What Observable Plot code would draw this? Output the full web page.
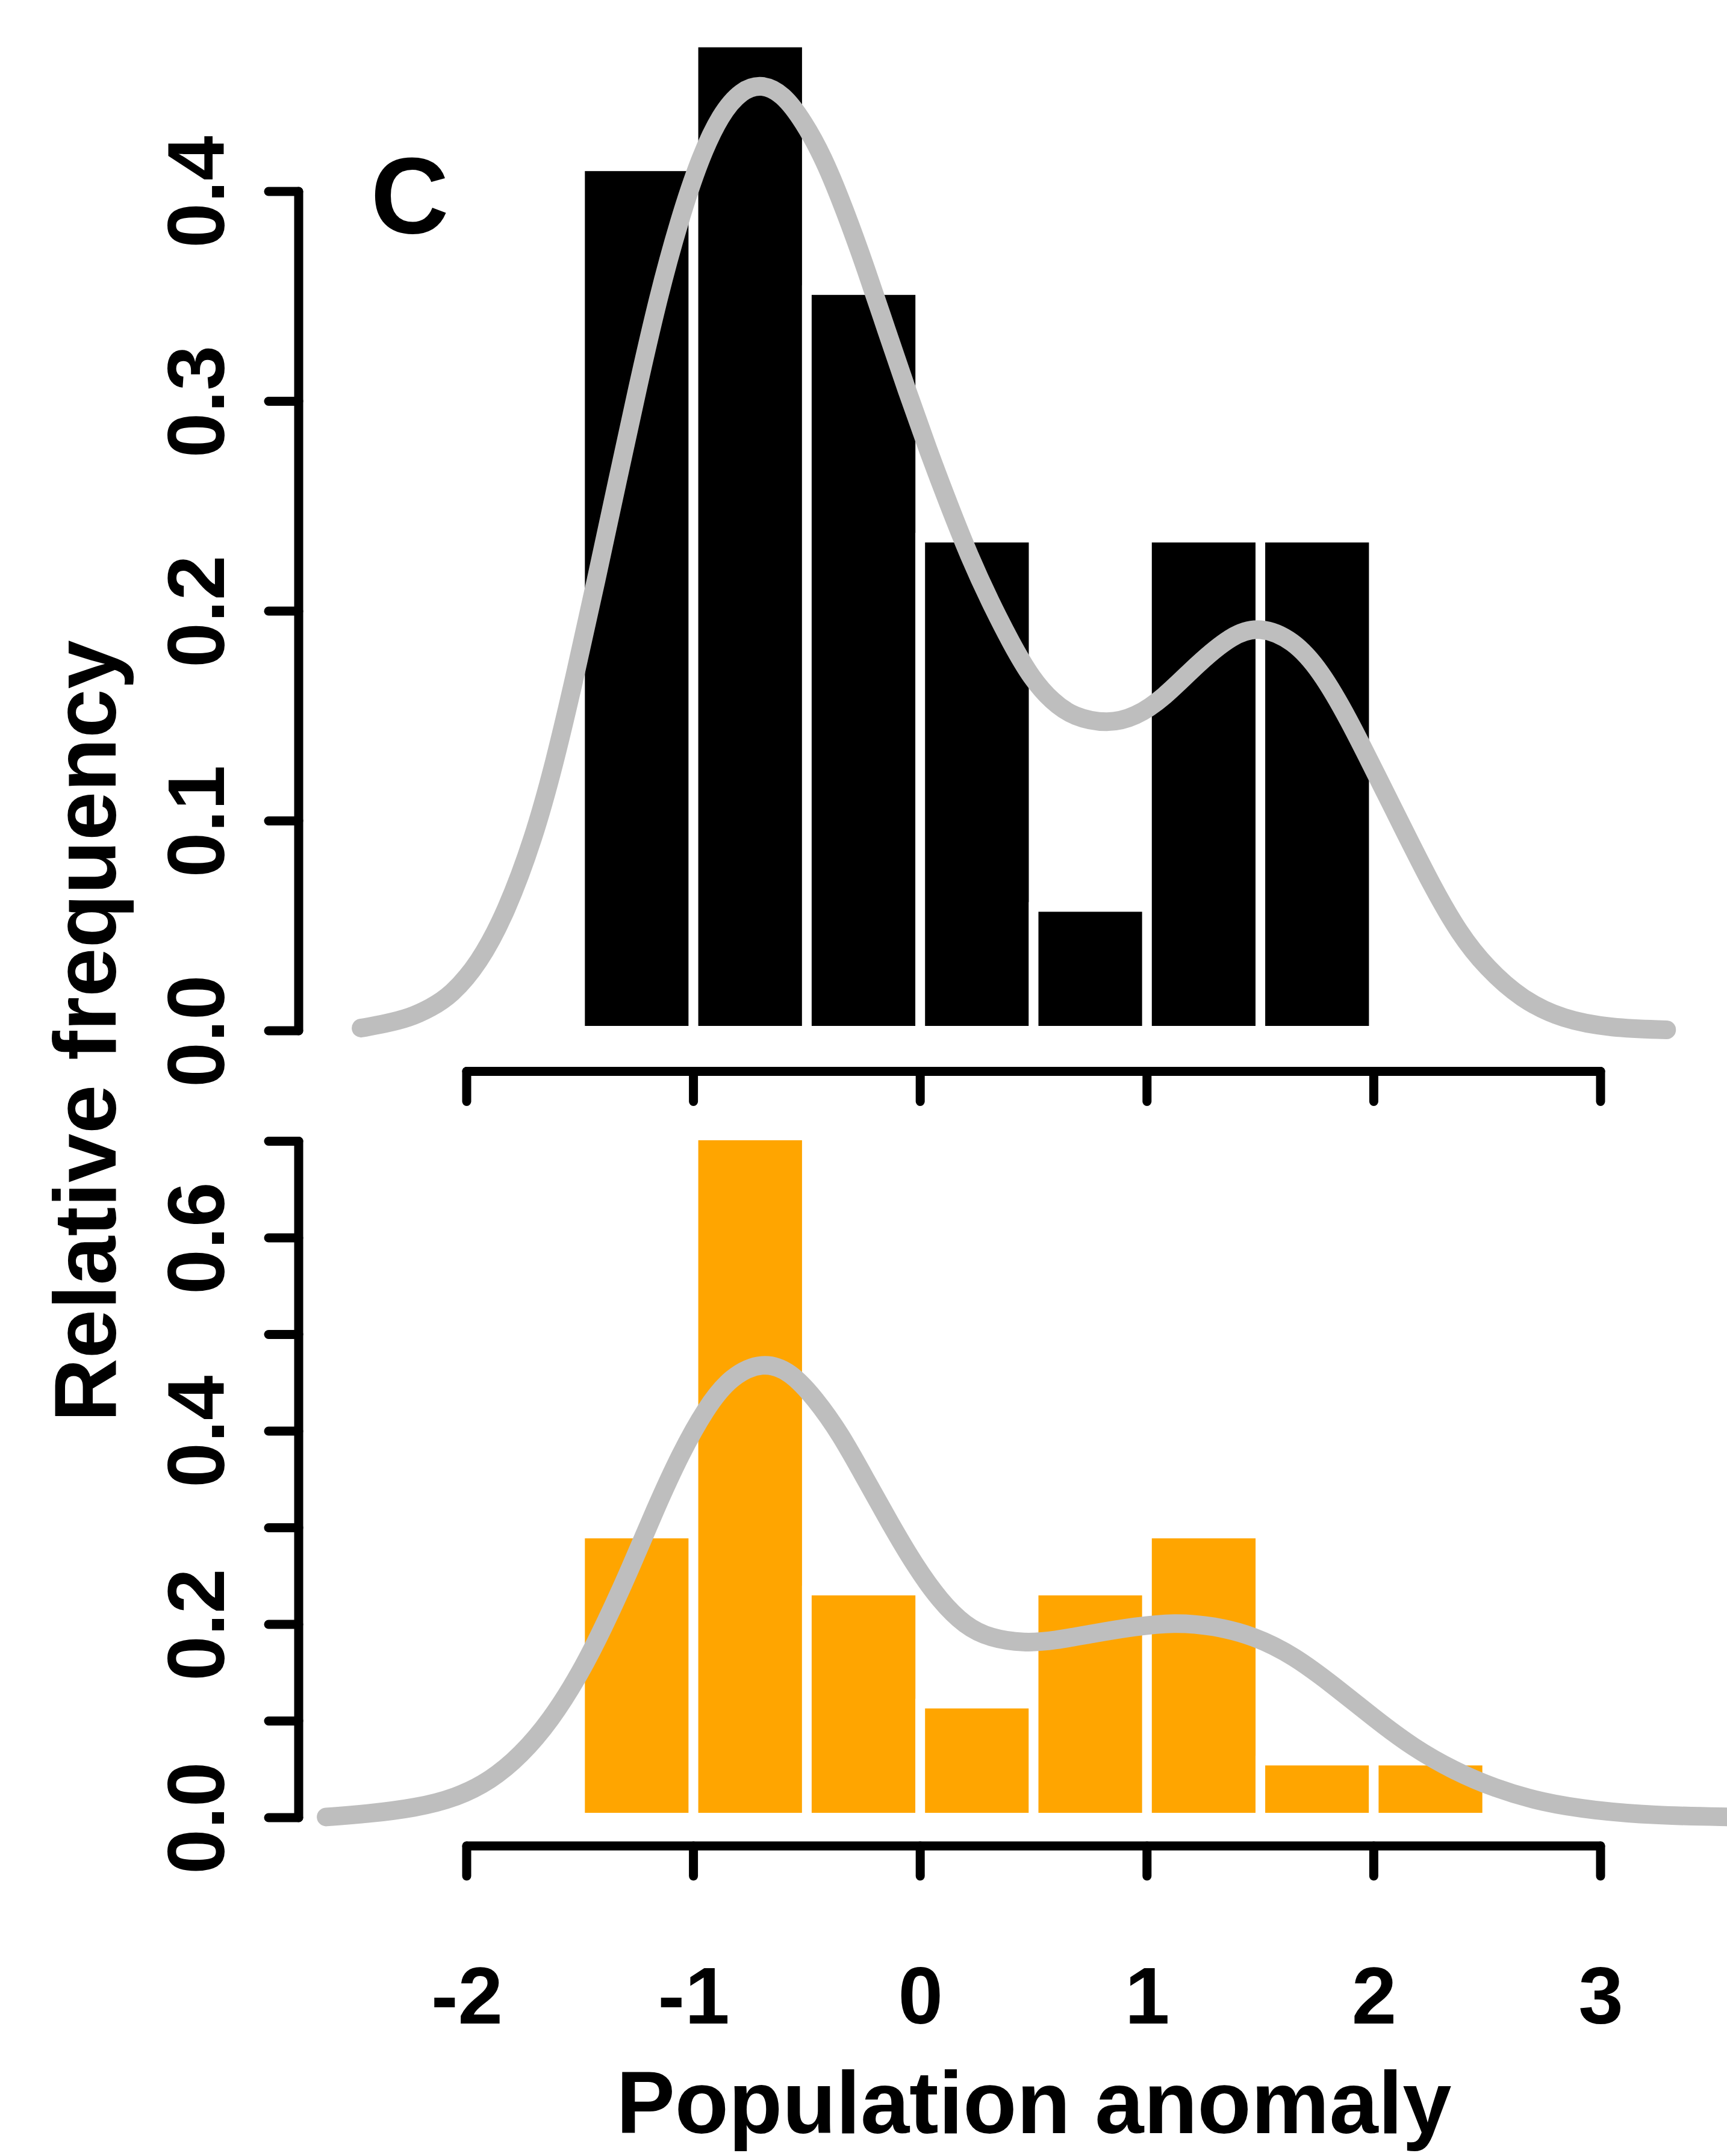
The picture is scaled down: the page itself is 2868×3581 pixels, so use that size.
<!DOCTYPE html>
<html>
<head>
<meta charset="utf-8">
<script src="https://cdn.jsdelivr.net/npm/d3@7"></script>
<script src="https://cdn.jsdelivr.net/npm/@observablehq/plot@0.6"></script>
<style>
  html, body { margin: 0; padding: 0; background: #ffffff; }
  #chart { position: relative; width: 2868px; height: 3581px; background: #ffffff; }
  #chart svg { position: absolute; left: 0; top: 0; }
</style>
</head>
<body>
<div id="chart"></div>
<script>
// ---------------- data ----------------
const xTicks = [-2, -1, 0, 1, 2, 3];
const binWidth = 0.5;

// upper panel (black histogram)
const topBinStarts = [-1.5, -1.0, -0.5, 0.0, 0.5, 1.0, 1.5];
const topFreq = [0.412, 0.471, 0.353, 0.235, 0.059, 0.235, 0.235];
const topYTicks = [0.0, 0.1, 0.2, 0.3, 0.4];
const topYLabels = [0.0, 0.1, 0.2, 0.3, 0.4];
const topCurveX = [-2.467, -2.36, -2.253, -2.16, -2.070, -1.948, -1.827, -1.705, -1.613, -1.522, -1.430, -1.339,
  -1.247, -1.156, -1.065, -0.973, -0.882, -0.790, -0.699, -0.607, -0.516, -0.424,
  -0.333, -0.241, -0.150, -0.059, 0.033, 0.124, 0.216, 0.307, 0.399, 0.490,
  0.581, 0.673, 0.826, 0.948, 1.070, 1.221, 1.375, 1.496, 1.643, 1.765,
  1.888, 2.010, 2.131, 2.253, 2.375, 2.497, 2.649, 2.832, 3.045, 3.29];
const topCurveY = [0.0014, 0.0035, 0.0063, 0.011, 0.017, 0.032, 0.0565, 0.092, 0.128, 0.170, 0.215, 0.261,
  0.307, 0.350, 0.386, 0.416, 0.437, 0.4485, 0.4515, 0.4467, 0.4336, 0.4155,
  0.391, 0.3635, 0.334, 0.305, 0.277, 0.251, 0.226, 0.2046, 0.185, 0.168,
  0.157, 0.1497, 0.1463, 0.1497, 0.1585, 0.175, 0.189, 0.193, 0.1865, 0.1717,
  0.1486, 0.1222, 0.096, 0.0697, 0.0465, 0.030, 0.0152, 0.0055, 0.0014, 0.0006];

// lower panel (orange histogram)
const bottomBinStarts = [-1.5, -1.0, -0.5, 0.0, 0.5, 1.0, 1.5, 2.0];
const bottomFreq = [0.294, 0.706, 0.235, 0.118, 0.235, 0.294, 0.059, 0.059];
const bottomYTicks = [0.0, 0.1, 0.2, 0.3, 0.4, 0.5, 0.6, 0.7];
const bottomYLabels = [0.0, 0.2, 0.4, 0.6];
const bottomCurveX = [-2.621, -2.446, -2.226, -2.049, -1.895, -1.763, -1.631, -1.499, -1.389, -1.279,
  -1.169, -1.058, -0.948, -0.838, -0.695, -0.574, -0.464, -0.354, -0.244, -0.134,
  -0.024, 0.086, 0.196, 0.306, 0.458, 0.590, 0.766, 0.942, 1.118, 1.294,
  1.471, 1.647, 1.823, 1.999, 2.175, 2.351, 2.527, 2.747, 2.968, 3.232, 3.558, 3.70];
const bottomCurveY = [0.001, 0.004, 0.0103, 0.0207, 0.0388, 0.0646, 0.1007, 0.150, 0.2015, 0.2583,
  0.320, 0.377, 0.4237, 0.457, 0.4726, 0.4623, 0.4339, 0.3978, 0.3513, 0.3048,
  0.2609, 0.2247, 0.1989, 0.186, 0.1808, 0.1834, 0.1911, 0.1979, 0.2025, 0.1989,
  0.1885, 0.1679, 0.1369, 0.1034, 0.0723, 0.0491, 0.031, 0.0156, 0.0078, 0.0026, 0.001, 0.0008];

const yTitle = "Relative frequency";
const xTitle = "Population anomaly";
const panelLabel = "C";

// ---------------- tables built from the arrays ----------------
const topBins = topBinStarts.map((s, i) => ({x1: s, x2: s + binWidth, freq: topFreq[i]}));
const bottomBins = bottomBinStarts.map((s, i) => ({x1: s, x2: s + binWidth, freq: bottomFreq[i]}));
const topCurve = topCurveX.map((x, i) => ({x, y: topCurveY[i]}));
const bottomCurve = bottomCurveX.map((x, i) => ({x, y: bottomCurveY[i]}));

// ---------------- styling ----------------
const W = 2868, H = 3581;
const FONT = "'Liberation Sans', Arial, Helvetica, sans-serif";
const AXIS_W = 15, TICK_LEN = 50;
const TICK_FS = 134, TITLE_FS = 146;
const CURVE_COLOR = "#bebebe";
const CURVE_W = 31;
const xScale = {domain: [xTicks[0], xTicks[xTicks.length - 1]], range: [775, 2658], axis: null};

// R-style axes (line from first to last tick), drawn from the plot's scales
function axisLeft(ticks) {
  return (index, scales, values, dim) => {
    const x0 = dim.marginLeft;
    const ys = ticks.map((t) => scales.y(t));
    const g = d3.create("svg:g")
      .attr("stroke", "black").attr("stroke-width", AXIS_W)
      .attr("stroke-linecap", "round").attr("fill", "none");
    g.append("line").attr("x1", x0).attr("x2", x0).attr("y1", d3.min(ys)).attr("y2", d3.max(ys));
    g.selectAll(null).data(ys).join("line")
      .attr("x1", x0 - TICK_LEN).attr("x2", x0).attr("y1", (d) => d).attr("y2", (d) => d);
    return g.node();
  };
}
function axisBottom(ticks) {
  return (index, scales, values, dim) => {
    const y0 = dim.height - dim.marginBottom;
    const xs = ticks.map((t) => scales.x(t));
    const g = d3.create("svg:g")
      .attr("stroke", "black").attr("stroke-width", AXIS_W)
      .attr("stroke-linecap", "round").attr("fill", "none");
    g.append("line").attr("x1", d3.min(xs)).attr("x2", d3.max(xs)).attr("y1", y0).attr("y2", y0);
    g.selectAll(null).data(xs).join("line")
      .attr("x1", (d) => d).attr("x2", (d) => d).attr("y1", y0).attr("y2", y0 + TICK_LEN);
    return g.node();
  };
}

// ---------------- upper panel (full-height SVG; panel sits in its top part) ----------------
const topPlot = Plot.plot({
  width: W,
  height: H,
  marginLeft: 496,
  marginTop: 0,
  marginRight: 0,
  marginBottom: H - 1779.5,
  x: xScale,
  y: {domain: [0, 0.4], range: [1712, 318], axis: null},
  style: {fontFamily: FONT, background: "transparent", overflow: "visible"},
  marks: [
    Plot.rectY(topBins, {x1: "x1", x2: "x2", y: "freq", fill: "black", stroke: "white", strokeWidth: 16}),
    Plot.line(topCurve, {x: "x", y: "y", stroke: CURVE_COLOR, strokeWidth: CURVE_W, curve: "basis",
      strokeLinecap: "round", strokeLinejoin: "round"}),
    axisLeft(topYTicks),
    axisBottom(xTicks),
    Plot.text(topYLabels, {y: (d) => d, text: (d) => d.toFixed(1), frameAnchor: "left", dx: -125,
      rotate: -90, textAnchor: "middle", lineAnchor: "bottom", fontSize: TICK_FS, fontWeight: "bold", fill: "black"}),
    Plot.text([panelLabel], {text: (d) => d, frameAnchor: "top-left", dx: 119, dy: 386,
      textAnchor: "start", lineAnchor: "bottom", fontSize: 180, fontWeight: "bold", fill: "black"}),
    Plot.text([yTitle], {text: (d) => d, frameAnchor: "bottom-left", dx: -305, dy: -67.5,
      rotate: -90, textAnchor: "middle", lineAnchor: "bottom", fontSize: TITLE_FS, fontWeight: "bold", fill: "black"})
  ]
});

// ---------------- lower panel ----------------
const BOT_TOP = 1850;
const BOT_H = H - BOT_TOP;
const bottomPlot = Plot.plot({
  width: W,
  height: BOT_H,
  marginLeft: 496,
  marginTop: 0,
  marginRight: 0,
  marginBottom: BOT_H - (3066 - BOT_TOP),
  x: xScale,
  y: {domain: [0, 0.7], range: [3019 - BOT_TOP, 1895.5 - BOT_TOP], axis: null},
  style: {fontFamily: FONT, background: "transparent", overflow: "visible"},
  marks: [
    Plot.rectY(bottomBins, {x1: "x1", x2: "x2", y: "freq", fill: "#ffa500", stroke: "white", strokeWidth: 16}),
    Plot.line(bottomCurve, {x: "x", y: "y", stroke: CURVE_COLOR, strokeWidth: CURVE_W, curve: "basis",
      strokeLinecap: "round", strokeLinejoin: "round"}),
    axisLeft(bottomYTicks),
    axisBottom(xTicks),
    Plot.text(bottomYLabels, {y: (d) => d, text: (d) => d.toFixed(1), frameAnchor: "left", dx: -125,
      rotate: -90, textAnchor: "middle", lineAnchor: "bottom", fontSize: TICK_FS, fontWeight: "bold", fill: "black"}),
    Plot.text(xTicks, {x: (d) => d, text: (d) => String(d), frameAnchor: "bottom", dy: 294,
      textAnchor: "middle", lineAnchor: "bottom", fontSize: TICK_FS, fontWeight: "bold", fill: "black"}),
    Plot.text([xTitle], {x: () => d3.mean(d3.extent(xTicks)), text: (d) => d, frameAnchor: "bottom", dy: 476,
      textAnchor: "middle", lineAnchor: "bottom", fontSize: TITLE_FS, fontWeight: "bold", fill: "black"})
  ]
});
bottomPlot.style.top = BOT_TOP + "px";

const chart = document.getElementById("chart");
chart.appendChild(topPlot);
chart.appendChild(bottomPlot);
</script>
</body>
</html>
